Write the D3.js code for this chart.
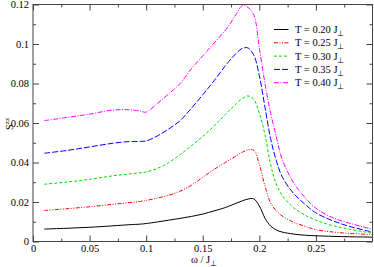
<!DOCTYPE html>
<html lang="en">
<head>
<meta charset="utf-8">
<title>Szz vs omega</title>
<script src="https://d3js.org/d3.v7.min.js"></script>
<style>
  body { margin: 0; background: #fff; }
  svg { display: block; font-family: "Liberation Serif", "Times New Roman", serif; }
</style>
</head>
<body>
<div id="chart"></div>
<script>
// omega / J_perp sample points
var omega = [0.01, 0.03, 0.05, 0.07, 0.085, 0.095, 0.1, 0.11, 0.12, 0.13, 0.14, 0.15, 0.16, 0.17, 0.175,
             0.18, 0.185, 0.19, 0.195, 0.2, 0.205, 0.21, 0.215, 0.22, 0.23, 0.24, 0.25, 0.265, 0.28, 0.3];

// S^zz for each temperature
var s020 = [0.0063, 0.0067, 0.0072, 0.0079, 0.0085, 0.0088, 0.0091, 0.0099, 0.0108, 0.0117, 0.0127, 0.0139, 0.0155, 0.0172, 0.0183,
            0.0195, 0.0206, 0.0215, 0.0216, 0.0180, 0.0118, 0.0078, 0.0058, 0.0048, 0.0038, 0.0032, 0.0029, 0.0026, 0.0024, 0.0022];
var s025 = [0.0157, 0.0166, 0.0176, 0.0188, 0.0197, 0.0203, 0.0208, 0.0220, 0.0234, 0.0255, 0.0285, 0.0325, 0.0365, 0.0400, 0.0418,
            0.0435, 0.0452, 0.0464, 0.0462, 0.0390, 0.0280, 0.0195, 0.0155, 0.0130, 0.0098, 0.0078, 0.0060, 0.0048, 0.0041, 0.0035];
var s030 = [0.0290, 0.0301, 0.0315, 0.0332, 0.0342, 0.0348, 0.0352, 0.0370, 0.0400, 0.0440, 0.0485, 0.0532, 0.0585, 0.0643, 0.0672,
            0.0700, 0.0724, 0.0737, 0.0720, 0.0650, 0.0540, 0.0390, 0.0290, 0.0235, 0.0172, 0.0135, 0.0108, 0.0080, 0.0062, 0.0042];
var s035 = [0.0447, 0.0461, 0.0479, 0.0497, 0.0506, 0.0507, 0.0509, 0.0535, 0.0570, 0.0612, 0.0675, 0.0743, 0.0814, 0.0890, 0.0925,
            0.0955, 0.0978, 0.0980, 0.0945, 0.0840, 0.0680, 0.0520, 0.0410, 0.0330, 0.0245, 0.0190, 0.0145, 0.0105, 0.0076, 0.0048];
var s040 = [0.0612, 0.0628, 0.0645, 0.0665, 0.0667, 0.0660, 0.0655, 0.0700, 0.0748, 0.0800, 0.0875, 0.0940, 0.1005, 0.1070, 0.1110,
            0.1155, 0.1195, 0.1185, 0.1150, 0.0980, 0.0800, 0.0650, 0.0530, 0.0420, 0.0300, 0.0225, 0.0168, 0.0120, 0.0092, 0.0062];

var legendLabels = ["T = 0.20 J", "T = 0.25 J", "T = 0.30 J", "T = 0.35 J", "T = 0.40 J"];
var xTicks = [0, 0.05, 0.1, 0.15, 0.2, 0.25];
var yTicks = [0, 0.02, 0.04, 0.06, 0.08, 0.1, 0.12];

var series = [
  {vals: s020, color: "#000000", dash: null},
  {vals: s025, color: "#ff0000", dash: "4,1.5,1,1.5,1,1.5"},
  {vals: s030, color: "#00dd00", dash: "3,2"},
  {vals: s035, color: "#0000ff", dash: "6,2"},
  {vals: s040, color: "#ff00ff", dash: "5,1.5,1,1.5"}
];

var W = 374, H = 267;
var mLeft = 33, mRight = 372.5, mTop = 4.5, mBottom = 241.5;
var serif = "'Liberation Serif', 'Times New Roman', serif";

var svg = d3.select("#chart").append("svg")
  .attr("width", W).attr("height", H);

var x = d3.scaleLinear().domain([0, 0.3]).range([mLeft, mRight]);
var y = d3.scaleLinear().domain([0, 0.12]).range([mBottom, mTop]);

var xMinor = d3.range(0.025, 0.3, 0.05);
var yMinor = d3.range(0.01, 0.12, 0.02);

// axes with inward ticks on all four sides
function styleAxis(g) {
  g.attr("font-family", serif).attr("font-size", 10.5);
  g.select(".domain").remove();
  g.selectAll(".tick line").attr("stroke", "#444");
  g.selectAll(".tick text").attr("fill", "#000");
}
svg.append("g").attr("transform", "translate(0," + mBottom + ")")
  .call(d3.axisBottom(x).tickValues(xTicks).tickSize(-6).tickPadding(3).tickFormat(d3.format("")))
  .call(styleAxis);
svg.append("g").attr("transform", "translate(0," + mBottom + ")")
  .call(d3.axisBottom(x).tickValues(xMinor).tickSize(-3).tickFormat(""))
  .call(styleAxis);
svg.append("g").attr("transform", "translate(0," + mTop + ")")
  .call(d3.axisTop(x).tickValues(xTicks).tickSize(-6).tickFormat(""))
  .call(styleAxis);
svg.append("g").attr("transform", "translate(0," + mTop + ")")
  .call(d3.axisTop(x).tickValues(xMinor).tickSize(-3).tickFormat(""))
  .call(styleAxis);
svg.append("g").attr("transform", "translate(" + mLeft + ",0)")
  .call(d3.axisLeft(y).tickValues(yTicks).tickSize(-6).tickPadding(4).tickFormat(d3.format("")))
  .call(styleAxis);
svg.append("g").attr("transform", "translate(" + mLeft + ",0)")
  .call(d3.axisLeft(y).tickValues(yMinor).tickSize(-3).tickFormat(""))
  .call(styleAxis);
svg.append("g").attr("transform", "translate(" + mRight + ",0)")
  .call(d3.axisRight(y).tickValues(yTicks).tickSize(-6).tickFormat(""))
  .call(styleAxis);
svg.append("g").attr("transform", "translate(" + mRight + ",0)")
  .call(d3.axisRight(y).tickValues(yMinor).tickSize(-3).tickFormat(""))
  .call(styleAxis);

// curves
var line = d3.line()
  .x(function(d, i) { return x(omega[i]); })
  .y(function(d) { return y(d); })
  .curve(d3.curveCatmullRom.alpha(0.5));

svg.append("defs").append("clipPath").attr("id", "plotclip")
  .append("rect").attr("x", mLeft).attr("y", mTop).attr("width", mRight - mLeft).attr("height", mBottom - mTop);

svg.append("g").attr("clip-path", "url(#plotclip)")
  .selectAll("path").data(series).enter().append("path")
  .attr("d", function(d) { return line(d.vals); })
  .attr("fill", "none")
  .attr("stroke", function(d) { return d.color; })
  .attr("stroke-width", 1)
  .attr("stroke-dasharray", function(d) { return d.dash; });

// frame
svg.append("rect")
  .attr("x", mLeft).attr("y", mTop)
  .attr("width", mRight - mLeft).attr("height", mBottom - mTop)
  .attr("fill", "none").attr("stroke", "#444").attr("stroke-width", 1);

// legend
var leg = svg.append("g").attr("font-family", serif);
series.forEach(function(s, i) {
  var ly = 29.5 + i * 13.3;
  leg.append("line")
    .attr("x1", 274).attr("x2", 288.5).attr("y1", ly).attr("y2", ly)
    .attr("stroke", s.color).attr("stroke-width", 1)
    .attr("stroke-dasharray", s.dash);
  var t = leg.append("text")
    .attr("x", 295).attr("y", ly + 3.5)
    .attr("font-size", 10.5);
  t.append("tspan").text(legendLabels[i]);
  t.append("tspan").attr("dy", 3).attr("font-size", 8).text("\u22A5");
});

// axis titles
var xt = svg.append("text")
  .attr("x", 191).attr("y", 263)
  .attr("font-family", serif).attr("font-size", 10.5);
xt.append("tspan").text("\u03C9 / J");
xt.append("tspan").attr("dy", 2.5).attr("font-size", 8).text("\u22A5");

var yt = svg.append("text")
  .attr("transform", "translate(13,130) rotate(-90)")
  .attr("font-family", serif).attr("font-size", 10.5);
yt.append("tspan").text("S");
yt.append("tspan").attr("dy", -4).attr("font-size", 7).text("zz");
</script>
</body>
</html>
